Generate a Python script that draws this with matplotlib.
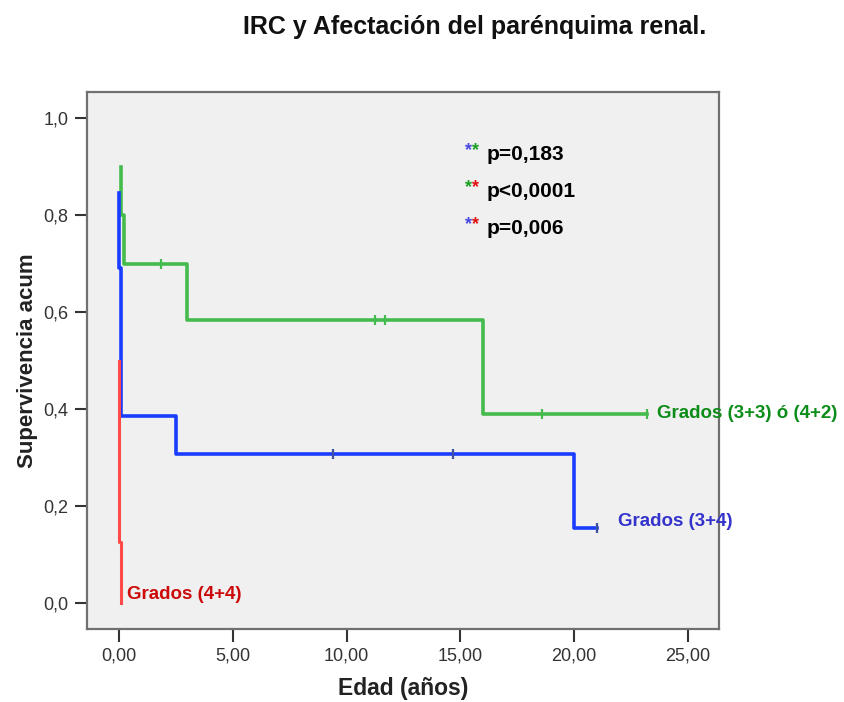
import matplotlib
matplotlib.use("Agg")
import matplotlib.pyplot as plt

plt.rcParams['font.family'] = ['Liberation Sans', 'DejaVu Sans']

# Kaplan-Meier steps per group (time in years, cumulative survival after each step)
green_t = [0.07, 0.07, 0.23, 3.0, 16.0, 23.22]
green_s = [0.900, 0.800, 0.700, 0.583, 0.389, 0.389]
green_cens_t = [1.83, 11.25, 11.69, 18.58, 23.22]
green_cens_s = [0.700, 0.583, 0.583, 0.389, 0.389]

blue_t = [0.0, 0.0, 0.07, 2.5, 20.0, 21.0]
blue_s = [0.846, 0.692, 0.385, 0.308, 0.154, 0.154]
blue_cens_t = [9.41, 14.68, 21.0]
blue_cens_s = [0.308, 0.308, 0.154]

red_t = [-0.03, -0.03, 0.07, 0.07]
red_s = [0.500, 0.125, 0.000, 0.000]

group_labels = ['Grados (3+3) ó (4+2)', 'Grados (3+4)', 'Grados (4+4)']
p_values = ['p=0,183', 'p<0,0001', 'p=0,006']
p_pairs = [('blue', 'green'), ('green', 'red'), ('blue', 'red')]

x_ticks = [0, 5, 10, 15, 20, 25]
y_ticks = [0.0, 0.2, 0.4, 0.6, 0.8, 1.0]

line_col = {'green': '#44bb4c', 'blue': '#1a3cff', 'red': '#ff4a4a'}
text_col = {'green': '#0c8c18', 'blue': '#3434cc', 'red': '#cc0a0a'}
star_col = {'green': '#1aa020', 'blue': '#4848e0', 'red': '#e01010'}

fig = plt.figure(figsize=(8.45, 7.02), dpi=100)
ax = fig.add_axes([0.1026, 0.104, 0.7483, 0.7654])
ax.set_facecolor('#f0f0f0')

ax.step(green_t, green_s, where='post', color=line_col['green'], lw=2.6)
ax.step(blue_t, blue_s, where='post', color=line_col['blue'], lw=2.6)
ax.step(red_t, red_s, where='post', color=line_col['red'], lw=2.2)
ax.plot(green_cens_t, green_cens_s, ls='none', marker='|', ms=7, mew=1.6,
        color=line_col['green'])
ax.plot(blue_cens_t, blue_cens_s, ls='none', marker='|', ms=7, mew=1.6,
        color='#4050a0')

ax.set_xlim(-1.43, 26.37)
ax.set_ylim(-0.054, 1.055)
ax.set_xticks(x_ticks)
ax.set_xticklabels([f'{v:.2f}'.replace('.', ',') for v in x_ticks])
ax.set_yticks(y_ticks)
ax.set_yticklabels([f'{v:.1f}'.replace('.', ',') for v in y_ticks])
ax.tick_params(direction='out', length=9, width=1.5, color='#333333',
               labelsize=13, labelcolor='#333333', pad=4)
for sp in ax.spines.values():
    sp.set_color('#707070')
    sp.set_linewidth(1.6)

# group labels at the end of each curve
ax.text(23.64, 0.391, group_labels[0], color=text_col['green'], fontsize=13.5,
        fontweight='bold', va='center', ha='left')
ax.text(21.95, 0.167, group_labels[1], color=text_col['blue'], fontsize=13.5,
        fontweight='bold', va='center', ha='left')
ax.text(0.36, 0.018, group_labels[2], color=text_col['red'], fontsize=13.5,
        fontweight='bold', va='center', ha='left')

# pairwise log-rank p values
for i, (pv, (c1, c2)) in enumerate(zip(p_values, p_pairs)):
    y = 0.926 - i * 0.0765
    ax.text(15.2, y + 0.008, '*', color=star_col[c1], fontsize=13,
            fontweight='bold', ha='left', va='center')
    ax.text(15.5, y + 0.008, '*', color=star_col[c2], fontsize=13,
            fontweight='bold', ha='left', va='center')
    ax.text(16.16, y, pv, color='black', fontsize=15, fontweight='bold',
            ha='left', va='center')

ax.set_xlabel('Edad (años)', fontsize=16.5, fontweight='bold', color='#222222',
              labelpad=9)
ax.set_ylabel('Supervivencia acum', fontsize=16, fontweight='bold',
              color='#222222', labelpad=4)
fig.text(0.562, 0.962, 'IRC y Afectación del parénquima renal.', fontsize=18,
         fontweight='bold', ha='center', va='center', color='#111111')

fig.savefig('out.png', dpi=100)
